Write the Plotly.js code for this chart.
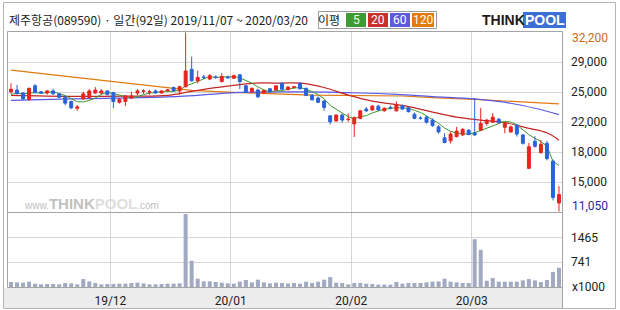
<!DOCTYPE html>
<html><head><meta charset="utf-8">
<script src="https://cdn.plot.ly/plotly-3.0.1.min.js"></script>
<style>html,body{margin:0;padding:0;background:#fff;}#chart{width:620px;height:310px;}</style>
</head><body><div id="chart"></div>
<script>
// ---- data (prices in KRW, volume in thousands of shares) ----
const openP = [
25200,25400,25050,24250,25900,25200,25050,25300,24950,24550,
24050,23250,24350,24500,25050,25050,25300,25100,23950,24050,
24450,25050,25250,25150,25300,25050,25300,25700,25300,25800,
27850,26500,26950,26700,26950,26400,26950,26800,27200,25900,
25200,25400,25050,25550,25400,26200,25450,25700,26200,25600,
24800,24450,24100,22350,21750,22450,21900,21400,22050,23150,
23050,23500,22950,23350,22950,23550,23300,22550,22100,22200,
21850,21050,19750,19400,19900,20100,20650,20350,20650,21450,
21600,21950,21000,20450,21250,20100,16150,19350,18000,19100,
17000,12050];
const highP = [
26200,26000,25150,25700,26100,25300,25400,25550,25050,24750,
24150,23650,25200,25500,25750,25500,25350,25200,24450,24800,
25200,25500,25500,25400,25450,25350,25500,25800,25900,32200,
29350,27700,27200,27300,27150,27400,27100,27250,27300,26000,
25700,25550,25400,25650,25950,26300,25850,25850,26350,25700,
24950,24650,24250,22450,22550,22600,22650,22250,23050,23400,
23650,23650,23350,23550,24050,23700,23400,22750,22300,22350,
22050,21250,20300,20500,21050,20900,20800,24450,23300,22000,
22700,22100,21600,21200,21400,20200,19150,19950,19500,19400,
17200,14050];
const lowP = [
24950,24850,24250,24200,25000,25000,24850,24850,24450,23600,
23150,22950,24250,24450,24950,24900,24800,23250,23800,23500,
24350,24800,24950,24850,25000,25000,25250,25250,24850,25700,
26400,26200,26700,26600,26750,26300,26750,26700,25500,25050,
25100,24450,24950,25150,25350,25400,25350,25600,25450,24700,
24150,23850,22950,21350,21650,21550,21650,19850,21950,22800,
22950,22950,22850,23100,22850,23050,22750,21950,21900,21450,
21050,20250,19100,19100,19800,20000,20050,19950,20550,21200,
21500,21450,20300,20350,19900,18950,16100,18600,17900,17100,
12350,11050];
const closeP = [
25500,25000,24350,25600,25100,25050,25300,24950,24550,23850,
23300,23400,24950,25300,25400,25300,24850,24050,24300,24700,
24700,25300,25300,25200,25050,25300,25420,25300,25800,27650,
26500,26900,26900,27100,26900,27000,26850,27100,26400,25150,
25600,24600,25350,25200,25900,25500,25750,25780,25550,24750,
24250,23950,23350,21650,22450,21850,21950,22150,22950,22950,
23500,23050,23250,23300,23650,23150,22850,22050,22050,21600,
21200,20450,19200,20200,20550,20750,20150,20100,21450,21850,
22200,21550,21450,21050,20200,19100,18700,18750,19000,17300,
12700,13050];
const volume = [
162,152,143,172,114,94,104,104,94,133,
123,94,249,181,133,94,104,104,114,114,
133,143,123,94,94,104,114,114,123,2144,
781,259,181,181,162,143,123,114,172,220,
152,230,152,123,143,133,114,133,114,172,
133,172,230,307,143,133,94,133,133,114,
104,85,85,85,162,114,133,133,133,152,
172,181,259,172,152,133,133,1410,1100,201,
278,172,172,172,172,210,249,210,162,220,
452,578];
const ma5 = [
24900,25000,24950,25050,25110,25020,25080,25200,24990,24740,
24390,24010,24010,24160,24470,24870,25160,24980,24780,24640,
24520,24610,24860,25040,25110,25230,25250,25250,25370,25890,
26130,26430,26750,27010,26860,26960,26950,26990,26850,26500,
26220,25770,25420,25180,25330,25310,25540,25630,25700,25470,
25220,24860,24370,23590,23130,22650,22250,22010,22270,22370,
22700,22920,23140,23210,23350,23280,23240,23000,22750,22340,
21950,21470,20900,20530,20320,20230,20170,20350,20600,20860,
21150,21430,21700,21620,21290,20670,20130,19690,19330,18770,
16970,16490];
const ma20Day = [0,10,19,26,30,34,40,45,48,52,56,60,66,70,74,78,82,86,89,91];
const ma20Val = [24760,24650,24680,24760,25240,25680,26200,26220,26220,25700,24800,24100,23450,22800,22200,21850,21550,20880,20350,19480];
const ma60Day = [0,10,20,28,33,38,48,58,64,70,77,83,87,91];
const ma60Val = [24170,24350,24470,24645,24880,25120,25180,25050,24880,24620,24350,23840,23250,22500];
const ma120Day = [0,8,15,17,25,30,37,50,65,70,77,84,91];
const ma120Val = [27750,27100,26520,26365,25690,25360,25120,24790,24700,24500,24310,24030,23760];
const monthStartDay = [17,37,57,77];
const monthLabels = ['19/12','20/01','20/02','20/03'];
const priceTickText = ['15,000','18,000','22,000','25,000','29,000'];
const volTickVals = [741,1465];
const maxLabel = '32,200', minLabel = '11,050';
const titleText = '제주항공(089590) · 일간(92일) 2019/11/07 ~ 2020/03/20';

// ---- layout helpers ----
const L = 8, T = 32, PW = 554, PH = 255;
const fx = p => (p - L) / PW;
const fy = p => (T + PH - p) / PH;
const day = closeP.map((_, i) => i);
const priceRange = [10990, 32260];
const priceTicks = [1,2,3,4,5].map(k => priceRange[0] + k*(priceRange[1]-priceRange[0])/6);

const tickFont = {family: 'Roboto, DejaVu Sans, sans-serif', size: 12, color: '#222'};

const traces = [
  {type:'scatter', mode:'lines', x: ma120Day, y: ma120Val, line:{color:'#e07a10', width:1.2}, xaxis:'x', yaxis:'y', hoverinfo:'skip'},
  {type:'scatter', mode:'lines', x: ma60Day, y: ma60Val, line:{color:'#5a5ae6', width:1.2, shape:'spline'}, xaxis:'x', yaxis:'y', hoverinfo:'skip'},
  {type:'scatter', mode:'lines', x: ma20Day, y: ma20Val, line:{color:'#c42626', width:1.2, shape:'spline'}, xaxis:'x', yaxis:'y', hoverinfo:'skip'},
  {type:'scatter', mode:'lines', x: day, y: ma5, line:{color:'#3c9a2c', width:1}, xaxis:'x', yaxis:'y', hoverinfo:'skip'},
  {type:'candlestick', x: day, open: openP, high: highP, low: lowP, close: closeP,
   increasing:{line:{color:'#e8231f', width:1}, fillcolor:'#e8231f'},
   decreasing:{line:{color:'#2a62da', width:1}, fillcolor:'#2a62da'},
   whiskerwidth:0, xaxis:'x', yaxis:'y3', hoverinfo:'skip'},
  {type:'bar', x: day, y: volume, marker:{color:'#a2aac2', line:{width:0}}, xaxis:'x', yaxis:'y2', hoverinfo:'skip'}
];

const shapes = [
  {type:'rect', xref:'paper', yref:'paper', x0:fx(3.5), x1:fx(562.5), y0:fy(288), y1:fy(308), fillcolor:'#ececec', line:{width:0}, layer:'below'},
  {type:'rect', xref:'paper', yref:'paper', x0:fx(3.5), x1:fx(615.5), y0:fy(2.5), y1:fy(308.5), line:{color:'#b4b4b4', width:1}},
  {type:'rect', xref:'paper', yref:'paper', x0:fx(7.5), x1:fx(562.5), y0:fy(31.5), y1:fy(287.5), line:{color:'#a4a4a4', width:1}},
  {type:'line', xref:'paper', yref:'paper', x0:fx(7.5), x1:fx(562.5), y0:fy(212.5), y1:fy(212.5), line:{color:'#a4a4a4', width:1}},
  {type:'line', xref:'paper', yref:'paper', x0:fx(562.5), x1:fx(562.5), y0:fy(287.5), y1:fy(308), line:{color:'#a4a4a4', width:1}},
  {type:'rect', xref:'paper', yref:'paper', x0:fx(318.5), x1:fx(436.5), y0:fy(11.5), y1:fy(28.5), fillcolor:'#fff', line:{color:'#9a9a9a', width:1}},
  {type:'rect', xref:'paper', yref:'paper', x0:fx(346), x1:fx(366), y0:fy(13), y1:fy(27), fillcolor:'#3f9c35', line:{width:0}},
  {type:'rect', xref:'paper', yref:'paper', x0:fx(368), x1:fx(388), y0:fy(13), y1:fy(27), fillcolor:'#c9302c', line:{width:0}},
  {type:'rect', xref:'paper', yref:'paper', x0:fx(390), x1:fx(410), y0:fy(13), y1:fy(27), fillcolor:'#5b5bdc', line:{width:0}},
  {type:'rect', xref:'paper', yref:'paper', x0:fx(412), x1:fx(434), y0:fy(13), y1:fy(27), fillcolor:'#e07b0c', line:{width:0}},
  {type:'rect', xref:'paper', yref:'paper', x0:fx(523), x1:fx(566), y0:fy(12), y1:fy(28), fillcolor:'#3b6fd3', line:{width:0}}
];

const ann = (x, y, text, opts) => Object.assign({xref:'paper', yref:'paper', x: fx(x), y: fy(y), text, showarrow:false, xanchor:'left', yanchor:'middle'}, opts || {});
const korFont = {family:'Noto Sans CJK KR, sans-serif', size:12, color:'#222'};
const annotations = [
  ann(7, 20, titleText, {font: korFont}),
  ann(329, 20, '이평', {xanchor:'center', font: korFont}),
  ann(356, 20, '5', {xanchor:'center', font:{family:'Roboto', size:12, color:'#eaffea'}}),
  ann(378, 20, '20', {xanchor:'center', font:{family:'Roboto', size:12, color:'#fff'}}),
  ann(400, 20, '60', {xanchor:'center', font:{family:'Roboto', size:12, color:'#fff'}}),
  ann(423, 20, '120', {xanchor:'center', font:{family:'Roboto', size:12, color:'#fff'}}),
  ann(480, 20.5, '<b>THINK</b>', {font:{family:'Liberation Sans, Arial', size:14, color:'#1a1a1a'}}),
  ann(544.5, 20.5, '<b>POOL</b>', {xanchor:'center', font:{family:'Liberation Sans, Arial', size:14, color:'#fff'}}),
  ann(22, 203, 'www.<span style="font-size:15px"><b>THINK</b></span><span style="font-size:15px;color:#dedede"><b>POOL</b></span>.com', {font:{family:'Liberation Sans, Arial', size:10, color:'#c0c0c0'}}),
  ann(570, 38, maxLabel, {font:{family:'Roboto', size:12, color:'#d06a10'}}),
  ann(570, 206, minLabel, {font:{family:'Roboto', size:12, color:'#1e2c9e'}}),
  ann(570, 287, 'x1000', {font: tickFont})
];

const layout = {
  width: 620, height: 310,
  margin: {l: L, r: 620 - L - PW, t: T, b: 310 - T - PH, pad: 0},
  paper_bgcolor: '#fff', plot_bgcolor: '#fff',
  showlegend: false, bargap: 0.33, dragmode: false, hovermode: false,
  xaxis: {range: [-0.5, 91.5], tickmode:'array', tickvals: monthStartDay.map(d => d - 0.5), ticktext: monthLabels,
          showgrid: true, gridcolor: '#d6d6d6', gridwidth: 1, zeroline: false, showline: false, ticks: '',
          tickfont: tickFont, anchor: 'y2', rangeslider: {visible: false}, ticklabelstandoff: 5, fixedrange: true},
  yaxis: {domain: [75/255, 1], range: priceRange, side: 'right', anchor: 'x', tickmode: 'array', tickvals: priceTicks, ticktext: priceTickText,
          showgrid: true, gridcolor: '#d6d6d6', zeroline: false, showline: false, ticks: '', tickfont: tickFont, ticklabelstandoff: 8, fixedrange: true},
  yaxis3: {overlaying: 'y', range: priceRange, visible: false, showgrid: false, fixedrange: true},
  yaxis2: {domain: [0, 75/255], range: [17, 2203], side: 'right', anchor: 'x', tickmode: 'array', tickvals: volTickVals, ticktext: volTickVals.map(String),
           showgrid: true, gridcolor: '#d6d6d6', zeroline: false, showline: false, ticks: '', tickfont: tickFont, ticklabelstandoff: 8, fixedrange: true},
  shapes, annotations
};

Plotly.newPlot('chart', traces, layout, {displayModeBar: false, staticPlot: true});
</script></body></html>
